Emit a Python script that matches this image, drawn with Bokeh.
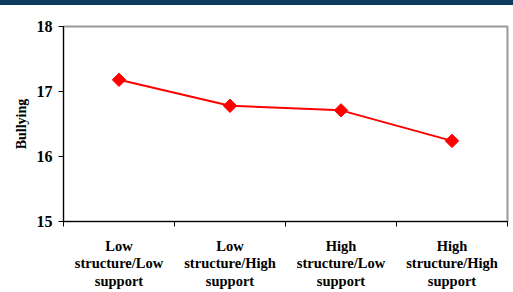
from bokeh.plotting import figure
from bokeh.models import FixedTicker, Range1d
from bokeh.embed import file_html
from bokeh.resources import INLINE

categories = ["Low\nstructure/Low\nsupport", "Low\nstructure/High\nsupport",
              "High\nstructure/Low\nsupport", "High\nstructure/High\nsupport"]
bullying = [17.18, 16.78, 16.71, 16.24]
y_ticks = [15, 16, 17, 18]

xs = [i + 0.5 for i in range(len(categories))]

p = figure(output_backend="svg", toolbar_location=None,
           frame_width=444, frame_height=195,
           min_border_left=63, min_border_top=21, min_border_right=6, min_border_bottom=71,
           x_range=Range1d(0, len(categories)), y_range=Range1d(y_ticks[0], y_ticks[-1]),
           styles={"border-top": "5px solid #0B3A5E"})

p.line(xs, bullying, line_color="#FF0000", line_width=2)
p.scatter(xs, bullying, marker="square", angle=0.785398, size=9.5,
          fill_color="#FF0000", line_color="#FF0000")

p.xgrid.visible = False
p.ygrid.visible = False
p.outline_line_color = "#999999"
p.outline_line_width = 2
p.background_fill_color = "white"
p.border_fill_color = "white"

font = "'Liberation Serif'"

xa = p.xaxis[0]
xa.ticker = FixedTicker(ticks=xs, minor_ticks=list(range(len(categories) + 1)))
xa.major_label_overrides = {x: c for x, c in zip(xs, categories)}
xa.major_tick_out = 0
xa.major_tick_in = 0
xa.minor_tick_out = 5
xa.minor_tick_in = 0
xa.minor_tick_line_color = "black"
xa.axis_line_color = "black"
xa.major_label_text_font = font
xa.major_label_text_font_style = "bold"
xa.major_label_text_font_size = "14.5px"
xa.major_label_text_line_height = 1.1
xa.major_label_text_color = "black"
xa.major_label_standoff = 11

ya = p.yaxis[0]
ya.ticker = FixedTicker(ticks=y_ticks, minor_ticks=[])
ya.major_tick_out = 5
ya.major_tick_in = 0
ya.axis_line_color = "black"
ya.major_tick_line_color = "black"
ya.major_label_text_font = font
ya.major_label_text_font_style = "bold"
ya.major_label_text_font_size = "16px"
ya.major_label_text_color = "black"
ya.major_label_standoff = 6
ya.axis_label = "Bullying"
ya.axis_label_text_font = font
ya.axis_label_text_font_style = "bold"
ya.axis_label_text_font_size = "14px"
ya.axis_label_text_color = "black"
ya.axis_label_standoff = 5

open("out.html", "w").write(file_html(p, INLINE))
